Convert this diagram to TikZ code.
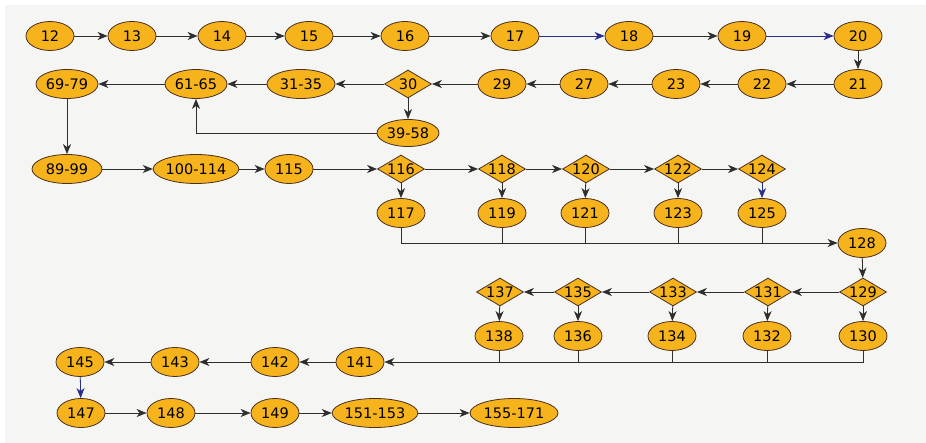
\documentclass[tikz,border=0pt]{standalone}
\usepackage{fontspec}
\setmainfont{DejaVu Sans}
\usetikzlibrary{shapes.geometric,arrows.meta}

\definecolor{nodefill}{HTML}{F6B31C}
\definecolor{nodeedge}{HTML}{4A2F1F}
\definecolor{wire}{HTML}{2E2E2E}
\definecolor{wireblue}{HTML}{2A2F8C}
\definecolor{paper}{HTML}{F5F5F3}

% decision labels are set in a zero-width box so the diamond keeps its fixed size
\newcommand\dlabel[1]{\makebox[0pt]{#1}}

\tikzset{
  blk/.style={ellipse, draw=nodeedge, fill=nodefill, line width=0.8pt,
    inner sep=0pt, minimum width=48pt, minimum height=29pt,
    font=\fontsize{14.5}{16}\selectfont},
  wideblk/.style={blk, minimum width=66pt},
  widerblk/.style={blk, minimum width=80pt},
  decide/.style={diamond, aspect=1.65, draw=nodeedge, fill=nodefill,
    line width=0.8pt, inner sep=0pt, minimum width=47pt, minimum height=28pt,
    font=\fontsize{14.5}{16}\selectfont},
  flow/.style={draw=wire, line width=0.8pt,
    -{Stealth[length=10pt,width=8pt,inset=3pt]}},
  flowblue/.style={flow, draw=wireblue},
  linkline/.style={draw=wire, line width=0.8pt}
}

\begin{document}
\begin{tikzpicture}[x=1pt,y=-1pt]
  % canvas
  \fill[paper] (0,0) rectangle (926,443);
  \fill[white] (0,0) rectangle (926,5);
  \fill[white] (0,0) rectangle (5,443);
  \useasboundingbox (0,0) rectangle (926,443);

  % first row
  \node[blk] (n12) at (50,36) {12};
  \node[blk] (n13) at (132,36) {13};
  \node[blk] (n14) at (222,36) {14};
  \node[blk] (n15) at (309,36) {15};
  \node[blk] (n16) at (405,36) {16};
  \node[blk] (n17) at (515,36) {17};
  \node[blk] (n18) at (629,36) {18};
  \node[blk] (n19) at (742,36) {19};
  \node[blk] (n20) at (858,36) {20};

  % second row
  \node[blk] (n21) at (858,84) {21};
  \node[blk] (n22) at (762,84) {22};
  \node[blk] (n23) at (676,84) {23};
  \node[blk] (n27) at (584,84) {27};
  \node[blk] (n29) at (502,84) {29};
  \node[decide] (n30) at (408,84) {\dlabel{30}};
  \node[wideblk, minimum width=68pt] (n31) at (301,84) {31-35};
  \node[wideblk, minimum width=62pt] (n61) at (196,84) {61-65};
  \node[wideblk, minimum width=62pt] (n69) at (67,84) {69-79};
  \node[wideblk, minimum width=62pt, minimum height=27pt] (n39) at (408,133) {39-58};

  % third row
  \node[wideblk, minimum width=70pt] (n89) at (67,169) {89-99};
  \node[widerblk, minimum width=78pt] (n100) at (196,169) {100-114};
  \node[blk] (n115) at (289,169) {115};
  \node[decide] (n116) at (401,169) {\dlabel{116}};
  \node[decide] (n118) at (502,169) {\dlabel{118}};
  \node[decide] (n120) at (586,169) {\dlabel{120}};
  \node[decide] (n122) at (678,169) {\dlabel{122}};
  \node[decide] (n124) at (762,169) {\dlabel{124}};
  \node[blk] (n117) at (401,213) {117};
  \node[blk] (n119) at (502,213) {119};
  \node[blk] (n121) at (585,213) {121};
  \node[blk] (n123) at (678,213) {123};
  \node[blk] (n125) at (762,213) {125};
  \node[blk] (n128) at (862,243) {128};

  % fourth row
  \node[decide] (n129) at (863,292) {\dlabel{129}};
  \node[decide] (n131) at (768,292) {\dlabel{131}};
  \node[decide] (n133) at (673,292) {\dlabel{133}};
  \node[decide] (n135) at (578,292) {\dlabel{135}};
  \node[decide] (n137) at (500,292) {\dlabel{137}};
  \node[blk] (n130) at (863,336) {130};
  \node[blk] (n132) at (767,336) {132};
  \node[blk] (n134) at (672,336) {134};
  \node[blk] (n136) at (578,336) {136};
  \node[blk] (n138) at (499,336) {138};

  % bottom rows
  \node[blk] (n141) at (360,362) {141};
  \node[blk] (n142) at (275,362) {142};
  \node[blk] (n143) at (175,362) {143};
  \node[blk] (n145) at (80,362) {145};
  \node[blk] (n147) at (81,413) {147};
  \node[blk] (n148) at (171,413) {148};
  \node[blk] (n149) at (275,413) {149};
  \node[widerblk] (n151) at (375,413) {151-153};
  \node[widerblk, minimum width=88pt] (n155) at (514,413) {155-171};

  % connectors, first row
  \draw[flow] (n12) -- (n13);
  \draw[flow] (n13) -- (n14);
  \draw[flow] (n14) -- (n15);
  \draw[flow] (n15) -- (n16);
  \draw[flow] (n16) -- (n17);
  \draw[flowblue] (n17) -- (n18);
  \draw[flow] (n18) -- (n19);
  \draw[flowblue] (n19) -- (n20);
  \draw[flow] (n20) -- (n21);

  % second row
  \draw[flow] (n21) -- (n22);
  \draw[flow] (n22) -- (n23);
  \draw[flow] (n23) -- (n27);
  \draw[flow] (n27) -- (n29);
  \draw[flow] (n29) -- (n30);
  \draw[flow] (n30) -- (n31);
  \draw[flow] (n31) -- (n61);
  \draw[flow] (n61) -- (n69);
  \draw[flow] (n30) -- (n39);
  \draw[flow] (n39.west) -| (n61.south);
  \draw[flow] (n69) -- (n89);

  % third row
  \draw[flow] (n89) -- (n100);
  \draw[flow] (n100) -- (n115);
  \draw[flow] (n115) -- (n116);
  \draw[flow] (n116) -- (n118);
  \draw[flow] (n118) -- (n120);
  \draw[flow] (n120) -- (n122);
  \draw[flow] (n122) -- (n124);
  \draw[flow] (n116) -- (n117);
  \draw[flow] (n118) -- (n119);
  \draw[flow] (n120) -- (n121);
  \draw[flow] (n122) -- (n123);
  \draw[flowblue] (n124) -- (n125);
  \draw[flow] (n117.south) |- (n128.west);
  \draw[linkline] (n119.south) -- (n119.south |- n128.west);
  \draw[linkline] (n121.south) -- (n121.south |- n128.west);
  \draw[linkline] (n123.south) -- (n123.south |- n128.west);
  \draw[linkline] (n125.south) -- (n125.south |- n128.west);
  \draw[flow] (n128) -- (n129);

  % fourth row
  \draw[flow] (n129) -- (n131);
  \draw[flow] (n131) -- (n133);
  \draw[flow] (n133) -- (n135);
  \draw[flow] (n135) -- (n137);
  \draw[flow] (n129) -- (n130);
  \draw[flow] (n131) -- (n132);
  \draw[flow] (n133) -- (n134);
  \draw[flow] (n135) -- (n136);
  \draw[flow] (n137) -- (n138);
  \draw[flow] (n130.south) |- (n141.east);
  \draw[linkline] (n132.south) -- (n132.south |- n141.east);
  \draw[linkline] (n134.south) -- (n134.south |- n141.east);
  \draw[linkline] (n136.south) -- (n136.south |- n141.east);
  \draw[linkline] (n138.south) -- (n138.south |- n141.east);

  % bottom rows
  \draw[flow] (n141) -- (n142);
  \draw[flow] (n142) -- (n143);
  \draw[flow] (n143) -- (n145);
  \draw[flowblue] (n145) -- (n147);
  \draw[flow] (n147) -- (n148);
  \draw[flow] (n148) -- (n149);
  \draw[flow] (n149) -- (n151);
  \draw[flow] (n151) -- (n155);
\end{tikzpicture}
\end{document}
